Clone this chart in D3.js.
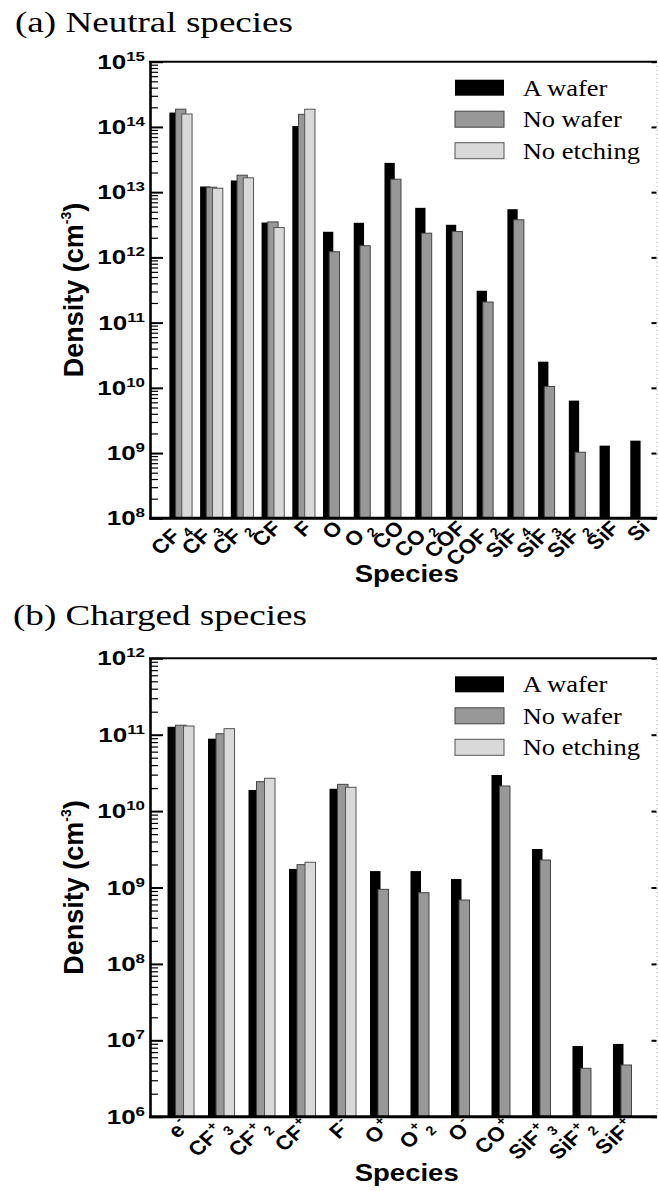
<!DOCTYPE html>
<html>
<head>
<meta charset="utf-8">
<script src="https://cdn.jsdelivr.net/npm/d3@7"></script>
<style>
  body { margin: 0; background: #fff; }
  svg { display: block; }
  .serif { font-family: "Liberation Serif", "Times New Roman", Times, serif; }
  .sans { font-family: "Liberation Sans", Arial, Helvetica, sans-serif; font-weight: bold; }
</style>
</head>
<body>
<svg id="chart" width="658" height="1191"></svg>
<script>
// species names: trailing digit -> subscript, trailing +/- -> superscript
const neutralSpecies = ['CF4', 'CF3', 'CF2', 'CF', 'F', 'O', 'O2', 'CO', 'CO2', 'COF', 'COF2', 'SiF4', 'SiF3', 'SiF2', 'SiF', 'Si']
const neutralWafer = [1.66e14, 1.22e13, 1.51e13, 3.42e12, 1.03e14, 2.47e12, 3.39e12, 2.81e13, 5.75e12, 3.16e12, 3.08e11, 5.48e12, 2.52e10, 6.37e9, 1.30e9, 1.55e9]
const neutralNoWafer = [1.87e14, 1.19e13, 1.82e13, 3.50e12, 1.56e14, 1.22e12, 1.51e12, 1.58e13, 2.35e12, 2.49e12, 2.07e11, 3.77e12, 1.05e10, 1.03e9, null, null]
const neutralNoEtching = [1.58e14, 1.15e13, 1.66e13, 2.87e12, 1.87e14, null, null, null, null, null, null, null, null, null, null, null]
const neutralDecades = [8, 9, 10, 11, 12, 13, 14, 15]

const chargedSpecies = ['e-', 'CF3+', 'CF2+', 'CF+', 'F-', 'O+', 'O2+', 'O-', 'CO+', 'SiF3+', 'SiF2+', 'SiF+']
const chargedWafer = [1.27e11, 8.87e10, 1.89e10, 1.75e9, 1.96e10, 1.64e9, 1.64e9, 1.29e9, 2.97e10, 3.19e9, 8.41e6, 8.96e6]
const chargedNoWafer = [1.33e11, 1.03e11, 2.43e10, 1.99e9, 2.24e10, 9.46e8, 8.55e8, 6.86e8, 2.13e10, 2.29e9, 4.30e6, 4.75e6]
const chargedNoEtching = [1.30e11, 1.20e11, 2.69e10, 2.14e9, 2.05e10, null, null, null, null, null, null, null]
const chargedDecades = [6, 7, 8, 9, 10, 11, 12]

const seriesNames = ['A wafer', 'No wafer', 'No etching']
const legendLens = [84.7, 99, 117.3]
const fills = ['#000', '#989898', '#d9d9d9']
const strokes = ['none', '#444', '#555']

const left = 150
const right = 657

const panels = [
  {
    title: '(a) Neutral species', titleX: 15, titleY: 32, titleLen: 278,
    top: 61.7, bottom: 518.3,
    species: neutralSpecies, series: [neutralWafer, neutralNoWafer, neutralNoEtching],
    decades: neutralDecades, xDomain: [0, 16.5], step: 6.2, barW: 10.3
  },
  {
    title: '(b) Charged species', titleX: 13, titleY: 625, titleLen: 294,
    top: 658.3, bottom: 1116.7,
    species: chargedSpecies, series: [chargedWafer, chargedNoWafer, chargedNoEtching],
    decades: chargedDecades, xDomain: [0.24, 12.76], step: 8, barW: 10.5
  }
]

const svg = d3.select('#chart')
svg.append('rect').attr('width', 658).attr('height', 1191).attr('fill', '#fff')

function drawPanel(p) {
  const g = svg.append('g')
  const x = d3.scaleLinear().domain(p.xDomain).range([left, right])
  const y = d3.scaleLog()
    .domain([Math.pow(10, p.decades[0]), Math.pow(10, p.decades[p.decades.length - 1])])
    .range([p.bottom, p.top])

  // title
  g.append('text')
    .attr('class', 'serif')
    .attr('x', p.titleX).attr('y', p.titleY)
    .attr('font-size', 30)
    .attr('textLength', p.titleLen).attr('lengthAdjust', 'spacingAndGlyphs')
    .text(p.title)

  // bars, drawn black -> gray -> light so later ones sit on top
  p.series.forEach((vals, j) => {
    g.append('g').selectAll('rect')
      .data(vals.map((v, i) => ({v, i})).filter(d => d.v != null))
      .join('rect')
      .attr('x', d => x(d.i + 1) + (j - 1) * p.step - p.barW / 2)
      .attr('y', d => y(d.v))
      .attr('width', p.barW)
      .attr('height', d => p.bottom - y(d.v))
      .attr('fill', fills[j])
      .attr('stroke', strokes[j])
      .attr('stroke-width', 1)
  })

  const majors = p.decades.map(e => Math.pow(10, e))
  const minors = y.ticks().filter(v => !majors.some(m => Math.abs(m - v) / m < 1e-9))

  // left axis: minor + major ticks pointing inward
  const minorAx = g.append('g').attr('transform', `translate(${left},0)`)
    .call(d3.axisLeft(y).tickValues(minors).tickSize(-8).tickSizeOuter(0).tickFormat(''))
  minorAx.select('.domain').remove()
  minorAx.selectAll('line').attr('stroke-width', 1.2)
  const majorAx = g.append('g').attr('transform', `translate(${left},0)`)
    .call(d3.axisLeft(y).tickValues(majors).tickSize(-13).tickSizeOuter(0).tickFormat(''))
  majorAx.select('.domain').attr('stroke-width', 2.6)
  majorAx.selectAll('line').attr('stroke-width', 2)

  // right axis
  const rightAx = g.append('g').attr('transform', `translate(${right - 0.5},0)`)
    .call(d3.axisRight(y).tickValues(majors).tickSize(-5).tickSizeOuter(0).tickFormat(''))
  rightAx.select('.domain').attr('stroke', '#999').attr('stroke-dasharray', '1,3')
  rightAx.selectAll('line').attr('stroke-width', 2)

  // top and bottom frame
  g.append('line').attr('x1', left - 1).attr('x2', right).attr('y1', p.top).attr('y2', p.top)
    .attr('stroke', '#000').attr('stroke-width', 2)
  g.append('line').attr('x1', left - 1).attr('x2', right).attr('y1', p.bottom).attr('y2', p.bottom)
    .attr('stroke', '#000').attr('stroke-width', 3)

  // y tick labels 10^n
  p.decades.forEach(e => {
    const t = g.append('text')
      .attr('class', 'sans')
      .attr('text-anchor', 'end')
      .attr('transform', `translate(145,${y(Math.pow(10, e)) + 7}) scale(1.3,1)`)
    t.append('tspan').attr('font-size', 20).text('10')
    t.append('tspan').attr('font-size', 13).attr('dy', -8).text(e)
  })

  // x tick labels, rotated (slightly stretched horizontally like the source)
  p.species.forEach((name, i) => {
    const m = name.match(/^([A-Za-z]+?)(\d?)([+-]?)$/)
    const t = g.append('text')
      .attr('class', 'sans')
      .attr('font-size', 20)
      .attr('text-anchor', 'end')
      .attr('transform', `translate(${x(i + 1) + 4},${p.bottom + 6}) scale(1.12,1) rotate(-45)`)
    t.append('tspan').attr('dy', '0.35em').text(m[1])
    let shift = 0
    if (m[3]) {
      t.append('tspan').attr('font-size', 13).attr('dy', -9).attr('dx', 1).text(m[3])
      shift = -9
    }
    if (m[2]) {
      t.append('tspan').attr('font-size', 13).attr('dy', 5 - shift).attr('dx', m[3] ? 0 : 4).text(m[2])
    }
  })

  // axis titles
  const cy = (p.top + p.bottom) / 2
  const yl = g.append('text')
    .attr('class', 'sans')
    .attr('font-size', 27)
    .attr('text-anchor', 'middle')
    .attr('transform', `translate(83,${cy}) rotate(-90)`)
  yl.append('tspan').text('Density (cm')
  yl.append('tspan').attr('font-size', 14).attr('dy', -12).text('-3')
  yl.append('tspan').attr('dy', 12).text(')')

  g.append('text')
    .attr('class', 'sans')
    .attr('font-size', 24)
    .attr('text-anchor', 'middle')
    .attr('x', 406.7).attr('y', p.bottom + 64)
    .attr('textLength', 104).attr('lengthAdjust', 'spacingAndGlyphs')
    .text('Species')

  // legend
  seriesNames.forEach((name, j) => {
    const ly = p.top + 18 + j * 31.5
    g.append('rect')
      .attr('x', 455).attr('y', ly).attr('width', 49).attr('height', 16)
      .attr('fill', fills[j]).attr('stroke', strokes[j])
    g.append('text')
      .attr('class', 'serif')
      .attr('font-size', 24)
      .attr('x', 522.7).attr('y', ly + 16)
      .attr('textLength', legendLens[j]).attr('lengthAdjust', 'spacingAndGlyphs')
      .text(name)
  })
}

panels.forEach(drawPanel)
</script>
</body>
</html>
